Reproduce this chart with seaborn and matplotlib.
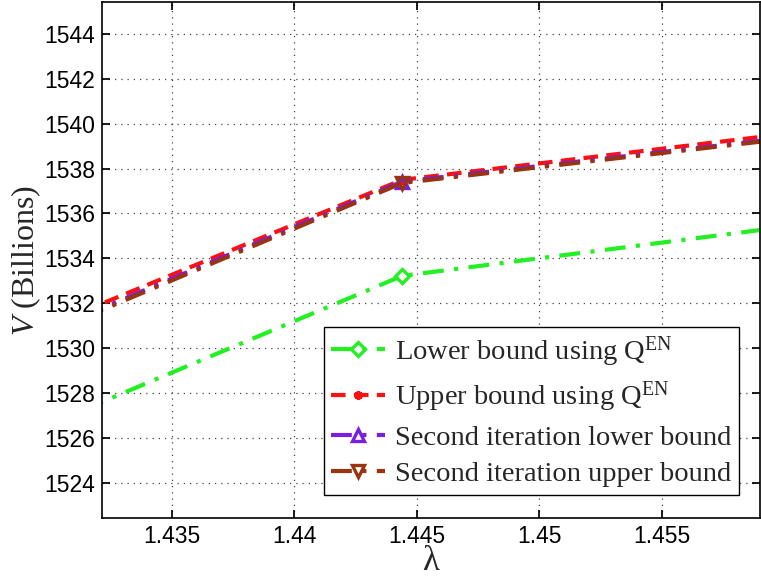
import matplotlib
matplotlib.use("Agg")
import matplotlib.pyplot as plt
import seaborn as sns
import numpy as np
import pandas as pd

# data (points outside the visible window included; view is zoomed)
lam = [1.4222, 1.4444, 1.4667]
lower_qen = [1523.03, 1533.22, 1536.34]
upper_qen = [1527.5, 1537.5, 1540.42]
second_lower = [1527.2, 1537.42, 1540.2]
second_upper = [1527.1, 1537.36, 1540.17]

labels = [r"Lower bound using Q$^{\mathrm{EN}}$",
          r"Upper bound using Q$^{\mathrm{EN}}$",
          "Second iteration lower bound",
          "Second iteration upper bound"]

sns.set_theme(style="white")
plt.rcParams['font.family'] = ['Liberation Sans', 'DejaVu Sans']
plt.rcParams['mathtext.fontset'] = 'custom'
plt.rcParams['mathtext.rm'] = 'Liberation Serif'
plt.rcParams['mathtext.it'] = 'Liberation Serif:italic'

fig = plt.figure(figsize=(7.61, 5.84), dpi=100)
ax = fig.add_axes([0.134, 0.1125, 0.8647, 0.8841])

dashdot = (0, (5, 2.5, 1, 2.5))
series = [
    (lower_qen, '#22f022', dashdot, 'D', 'none', 7),
    (upper_qen, '#ff1010', (0, (3.5, 2)), (6, 2, 0), '#ff1010', 6),
    (second_lower, '#7a1fe0', dashdot, '^', 'none', 9),
    (second_upper, '#9a3410', dashdot, 'v', 'none', 9),
]
for (vals, col, ls, mk, mfc, ms), lab in zip(series, labels):
    df = pd.DataFrame({'lam': lam, 'v': vals})
    sns.lineplot(data=df, x='lam', y='v', ax=ax, color=col, linewidth=3,
                 linestyle=ls, marker=mk, markersize=ms, markerfacecolor=mfc,
                 markeredgecolor=col, markeredgewidth=2.4, label=lab,
                 sort=False, estimator=None)

ax.set_xlim(1.43215, 1.4590)
ax.set_ylim(1522.41, 1545.43)
ax.set_xticks([1.435, 1.44, 1.445, 1.45, 1.455])
ax.set_xticklabels(['1.435', '1.44', '1.445', '1.45', '1.455'])
ax.set_yticks(np.arange(1524, 1545, 2))
ax.tick_params(direction='in', labelsize=16.5, length=6, colors='black',
               top=True, right=True, bottom=True, left=True)
ax.tick_params(axis='x', pad=5)
ax.tick_params(axis='y', pad=5)
ax.grid(True, linestyle=(0, (1, 4)), color='#444444', linewidth=0.9)
for s in ax.spines.values():
    s.set_color('black')
    s.set_linewidth(1.2)

ax.set_xlabel('λ', family=['Liberation Serif'], fontsize=25, labelpad=-2)
ax.set_ylabel(r'$V$ (Billions)', family=['Liberation Serif'], fontsize=23, labelpad=1)

leg = ax.legend(loc='lower right', bbox_to_anchor=(0.976, 0.035),
                prop={'family': 'Liberation Serif', 'size': 20.5},
                frameon=True, fancybox=False, edgecolor='black',
                handlelength=1.9, handletextpad=0.35, borderpad=0.25,
                borderaxespad=0.2, labelspacing=0.38, framealpha=1)
leg.get_frame().set_linewidth(1.0)

fig.savefig('out.png', dpi=100)
